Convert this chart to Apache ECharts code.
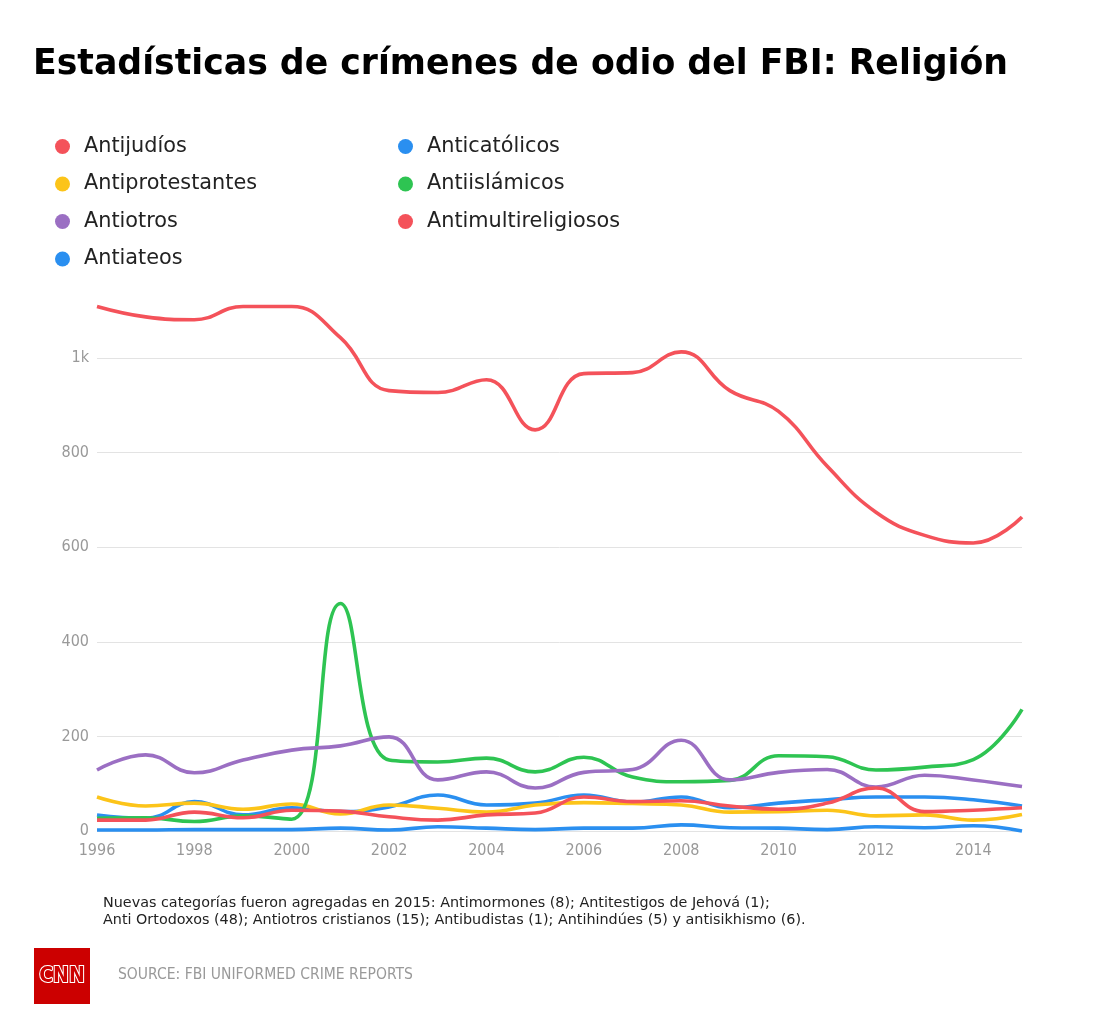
<!DOCTYPE html>
<html>
<head>
<meta charset="utf-8">
<script src="https://cdn.jsdelivr.net/npm/echarts@6/dist/echarts.min.js"></script>
<style>
html,body{margin:0;padding:0;background:#fff;}
#chart{width:1110px;height:1015px;}
</style>
</head>
<body>
<div id="chart"></div>
<script>
const years = ['1996','1997','1998','1999','2000','2001','2002','2003','2004','2005','2006','2007','2008','2009','2010','2011','2012','2013','2014','2015'];
const antijudios =          [1109,1087,1081,1109,1109,1043,931,927,954,848,967,969,1013,931,887,771,674,625,609,664];
const anticatolicos =       [34,27,62,34,49,41,51,76,55,59,76,61,72,49,59,66,72,72,66,53];
const antiprotestantes =    [72,53,59,46,57,36,55,48,40,55,60,58,55,40,41,44,32,34,23,35];
const antiislamicos =       [27,28,20,32,25,481,150,146,154,125,156,114,104,107,159,157,129,135,151,257];
const antiotros =           [129,161,123,150,171,180,199,108,125,91,124,130,192,108,124,130,93,118,108,94];
const antimultireligiosos = [23,23,40,28,44,42,30,23,34,38,72,62,64,53,46,59,91,41,44,49];
const antiateos =           [2,2,3,3,3,6,2,9,6,3,6,6,13,7,6,3,9,7,11,0];
const yTicks = ['0','200','400','600','800','1k'];

const RED = '#f4525a', BLUE = '#2a8ff0', YELLOW = '#fcc419', GREEN = '#2ec452', PURPLE = '#9b6fc3';
const COND = "'DejaVu Sans Condensed', 'Liberation Sans Narrow', Roboto, sans-serif";

function line(name, data, color) {
  return {
    name, type: 'line', data, smooth: 0.45,
    showSymbol: false, symbol: 'circle', clip: false,
    lineStyle: { width: 3.6, color }, itemStyle: { color },
    emphasis: { disabled: true }
  };
}

const chart = echarts.init(document.getElementById('chart'), null, { renderer: 'canvas' });
const legendText = { fontFamily: 'DejaVu Sans', fontSize: 20.8, color: '#222', padding: [0, 0, 0, 9] };
chart.setOption({
  backgroundColor: '#fff',
  animation: false,
  title: {
    text: 'Estadísticas de crímenes de odio del FBI: Religión',
    left: 28, top: 42,
    textStyle: { fontFamily: 'DejaVu Sans', fontWeight: 'bold', fontSize: 34.7, color: '#000' }
  },
  legend: [
    {
      orient: 'vertical', left: 50, top: 131, itemGap: 16.5,
      icon: 'circle', itemWidth: 15, itemHeight: 15,
      data: ['Antijudíos', 'Antiprotestantes', 'Antiotros', 'Antiateos'],
      textStyle: legendText, selectedMode: false
    },
    {
      orient: 'vertical', left: 393, top: 131, itemGap: 16.5,
      icon: 'circle', itemWidth: 15, itemHeight: 15,
      data: ['Anticatólicos', 'Antiislámicos', 'Antimultireligiosos'],
      textStyle: legendText, selectedMode: false
    }
  ],
  grid: { left: 97, right: 88, top: 358, bottom: 184, containLabel: false },
  xAxis: {
    type: 'category', data: years, boundaryGap: false,
    axisLine: { show: false }, axisTick: { show: false },
    axisLabel: { interval: 1, color: '#999', fontFamily: COND, fontSize: 16, margin: 12 }
  },
  yAxis: {
    type: 'value', min: 0, max: 1000, interval: 200,
    axisLine: { show: false }, axisTick: { show: false },
    axisLabel: {
      color: '#999', fontFamily: COND, fontSize: 16, margin: 8,
      formatter: v => yTicks[Math.round(v / 200)]
    },
    splitLine: { lineStyle: { color: '#e3e3e3', width: 1 } }
  },
  series: [
    line('Antijudíos', antijudios, RED),
    line('Anticatólicos', anticatolicos, BLUE),
    line('Antiprotestantes', antiprotestantes, YELLOW),
    line('Antiislámicos', antiislamicos, GREEN),
    line('Antiotros', antiotros, PURPLE),
    line('Antimultireligiosos', antimultireligiosos, RED),
    line('Antiateos', antiateos, BLUE)
  ],
  graphic: [
    {
      type: 'text', left: 103, top: 895,
      style: {
        text: 'Nuevas categorías fueron agregadas en 2015: Antimormones (8); Antitestigos de Jehová (1);\nAnti Ortodoxos (48); Antiotros cristianos (15); Antibudistas (1); Antihindúes (5) y antisikhismo (6).',
        fontFamily: 'DejaVu Sans', fontSize: 14.35, lineHeight: 17, fill: '#222'
      }
    },
    {
      type: 'rect', left: 34, top: 948,
      shape: { width: 56, height: 56 },
      style: { fill: '#cc0000' }
    },
    {
      type: 'text', x: 62, y: 977,
      style: {
        text: 'CNN', fontFamily: COND, fontWeight: 'bold', fontSize: 21,
        align: 'center', verticalAlign: 'middle',
        fill: '#cc0000', stroke: '#fff', lineWidth: 2
      }
    },
    {
      type: 'text', left: 118, top: 967,
      style: {
        text: 'SOURCE: FBI UNIFORMED CRIME REPORTS',
        fontFamily: COND, fontSize: 15.5, fill: '#999'
      }
    }
  ]
});
</script>
</body>
</html>
